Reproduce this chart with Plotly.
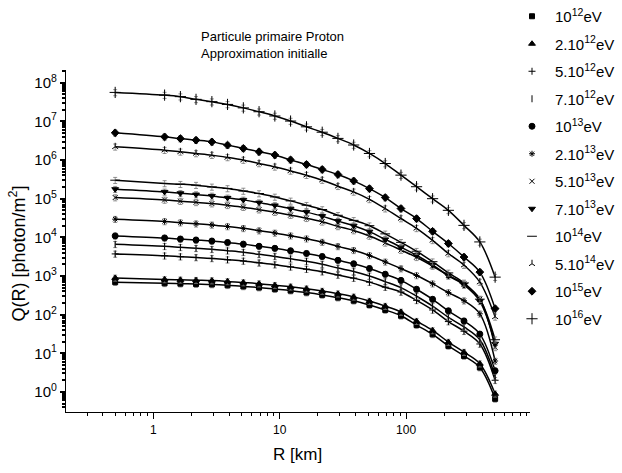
import plotly.graph_objects as go

# Lateral distance from the shower axis (km)
R_km = [0.5, 1.23, 1.64, 2.18, 2.91, 3.87, 5.16, 6.87, 9.16, 12.2, 16.3, 21.7,
        28.9, 38.5, 51.3, 68.4, 91.1, 121, 162, 216, 287, 383, 506]

# Photon density Q(R) [photon/m^2] for each primary energy
q_1e12 = [692, 646, 631, 617, 603, 575, 537, 501, 457, 417, 372, 324,
          275, 229, 178, 132, 93.3, 53.7, 30.9, 15.5, 8.51, 4.27, 0.661]
q_2e12 = [891, 813, 794, 776, 759, 724, 676, 631, 575, 525, 468, 407,
          347, 288, 224, 166, 117, 67.6, 38.9, 19.5, 10.7, 5.37, 0.891]
q_5e12 = [3720, 3330, 3160, 3010, 2850, 2640, 2440, 2190, 1960, 1720, 1500, 1290,
          1060, 879, 692, 513, 385, 234, 132, 66.1, 37.2, 17.4, 2.0]
q_7e12 = [6610, 5860, 5510, 5210, 4900, 4500, 4110, 3630, 3210, 2780, 2390, 2000,
          1600, 1310, 998, 714, 501, 299, 166, 85.1, 47.9, 22.4, 2.51]
q_1e13 = [10900, 9620, 9020, 8510, 8000, 7330, 6670, 5870, 5190, 4470, 3820, 3180,
          2540, 2060, 1560, 1110, 769, 453, 249, 125, 68.5, 31.3, 3.52]
q_2e13 = [29500, 25800, 24000, 22500, 21000, 19100, 17100, 14900, 13000, 11000, 9200, 7530,
          5830, 4620, 3400, 2320, 1550, 1030, 631, 372, 229, 105, 6.31]
q_5e13 = [107000, 92900, 86300, 80500, 74600, 67500, 60300, 52000, 44800, 37600, 31200, 25200,
          19200, 15000, 10800, 7210, 4690, 3050, 1810, 1030, 618, 252, 14.2]
q_7e13 = [176000, 150000, 138000, 128000, 118000, 105000, 93100, 79100, 67000, 55200, 44900, 35400,
          26300, 20000, 14000, 8830, 5570, 3440, 1930, 1010, 583, 222, 17.6]
q_1e14 = [301000, 248000, 237000, 224000, 202000, 184000, 158000, 136000, 111000, 87700, 67600, 52500,
          37200, 27500, 20000, 12300, 7410, 4370, 2340, 1200, 661, 251, 22.4]
q_5e14 = [2.2e6, 1.80e6, 1.63e6, 1.48e6, 1.34e6, 1.17e6, 1.0e6, 8.17e5, 6.67e5, 5.25e5, 4.06e5, 3.03e5,
          2.10e5, 1.50e5, 9.6e4, 5.52e4, 3.07e4, 1.71e4, 8360, 3820, 1910, 695, 87.5]
q_1e15 = [5.07e6, 3.98e6, 3.59e6, 3.27e6, 2.95e6, 2.43e6, 2.0e6, 1.64e6, 1.35e6, 1.01e6, 7.67e5, 5.69e5,
          4.22e5, 2.88e5, 1.82e5, 1.07e5, 5.56e4, 3.05e4, 1.43e4, 6920, 3090, 1260, 143]
q_1e16 = [5.62e7, 4.79e7, 4.37e7, 3.72e7, 3.24e7, 2.75e7, 2.24e7, 1.78e7, 1.38e7, 1.02e7, 7.24e6, 5.25e6,
          3.63e6, 2.45e6, 1.48e6, 8.13e5, 4.07e5, 2.04e5, 1.0e5, 5.0e4, 2.04e4, 7600, 933]

energy_labels = ["10<sup>12</sup>eV", "2.10<sup>12</sup>eV", "5.10<sup>12</sup>eV", "7.10<sup>12</sup>eV",
                 "10<sup>13</sup>eV", "2.10<sup>13</sup>eV", "5.10<sup>13</sup>eV", "7.10<sup>13</sup>eV",
                 "10<sup>14</sup>eV", "5.10<sup>14</sup>eV", "10<sup>15</sup>eV", "10<sup>16</sup>eV"]
series = [q_1e12, q_2e12, q_5e12, q_7e12, q_1e13, q_2e13, q_5e13, q_7e13,
          q_1e14, q_5e14, q_1e15, q_1e16]
symbols = ["square", "triangle-up", "cross-thin-open", "line-ns-open", "circle", "asterisk-open",
           "x-thin-open", "triangle-down", "line-ew-open", "y-up-open", "diamond", "cross-thin-open"]
sizes = [5, 6, 5, 5, 6, 5, 5, 6, 7, 5, 6, 8]

y_ticks = [1, 10, 100, 1e3, 1e4, 1e5, 1e6, 1e7, 1e8]
y_ticktext = ["10<sup>%d</sup>" % i for i in range(9)]
x_ticks = [1, 10, 100]
x_ticktext = ["1", "10", "100"]

FONT = "Liberation Sans, Arial, Helvetica, sans-serif"

fig = go.Figure()

# fitted curves
for q in series:
    fig.add_trace(go.Scatter(
        x=R_km, y=q, mode="lines", line=dict(color="black", width=1.5, shape="spline", smoothing=1.0),
        showlegend=False, hoverinfo="skip"))

# data points with small error bars
for name, q, sym, sz in zip(energy_labels, series, symbols, sizes):
    fig.add_trace(go.Scatter(
        x=R_km, y=q, mode="markers", name=name, legendgroup=name,
        marker=dict(symbol=sym, size=sz, color="black", line=dict(color="black", width=1)),
        error_y=dict(type="percent", value=18, color="#777777", thickness=0.8, width=2)))

W, H = 622, 473
L, Rm, T, B = 66, 92, 70, 61
pw, ph = W - L - Rm, H - T - B


def px_x(x):
    return (x - L) / pw


def px_y(y):
    return (H - B - y) / ph


fig.update_layout(
    width=W, height=H,
    margin=dict(l=L, r=Rm, t=T, b=B, autoexpand=False),
    paper_bgcolor="white", plot_bgcolor="white",
    font=dict(family=FONT, color="black"),
    legend=dict(x=px_x(509), xanchor="left", y=px_y(0), yanchor="top",
                font=dict(size=15, family=FONT), bgcolor="rgba(0,0,0,0)",
                tracegroupgap=5, itemsizing="trace", itemwidth=36,
                traceorder="grouped", maxheight=1),
    annotations=[
        dict(text="Particule primaire Proton<br>Approximation initialle",
             xref="paper", yref="paper", x=px_x(199), y=px_y(44.5),
             xanchor="left", yanchor="middle", align="left", showarrow=False,
             font=dict(size=13, family=FONT)),
        dict(text="R [km]", xref="paper", yref="paper", x=px_x(297), y=px_y(454),
             xanchor="center", yanchor="middle", showarrow=False,
             font=dict(size=17, family=FONT)),
        dict(text="Q(R) [photon/m<sup>2</sup>]", xref="paper", yref="paper",
             x=px_x(17.5), y=px_y(254), textangle=-90,
             xanchor="center", yanchor="middle", showarrow=False,
             font=dict(size=18, family=FONT)),
    ],
)

fig.update_xaxes(
    type="log", range=[-0.69, 2.98], automargin=False,
    showline=True, linecolor="black", linewidth=1.2, mirror=False,
    showgrid=False, zeroline=False,
    ticks="outside", ticklen=6, tickwidth=1.2, tickcolor="black",
    tickvals=x_ticks, ticktext=x_ticktext, tickfont=dict(size=12, family=FONT),
    minor=dict(ticks="outside", ticklen=3, tickcolor="black", dtick="D1", showgrid=False),
)
fig.update_yaxes(
    type="log", range=[-0.52, 8.33], automargin=False,
    showline=True, linecolor="black", linewidth=1.2, mirror=False,
    showgrid=False, zeroline=False,
    ticks="outside", ticklen=5, tickwidth=2, tickcolor="black",
    tickvals=y_ticks, ticktext=y_ticktext, tickfont=dict(size=15, family=FONT),
    minor=dict(ticks="outside", ticklen=3, tickcolor="black", dtick="D1", showgrid=False),
)

fig.write_html("out.html")
